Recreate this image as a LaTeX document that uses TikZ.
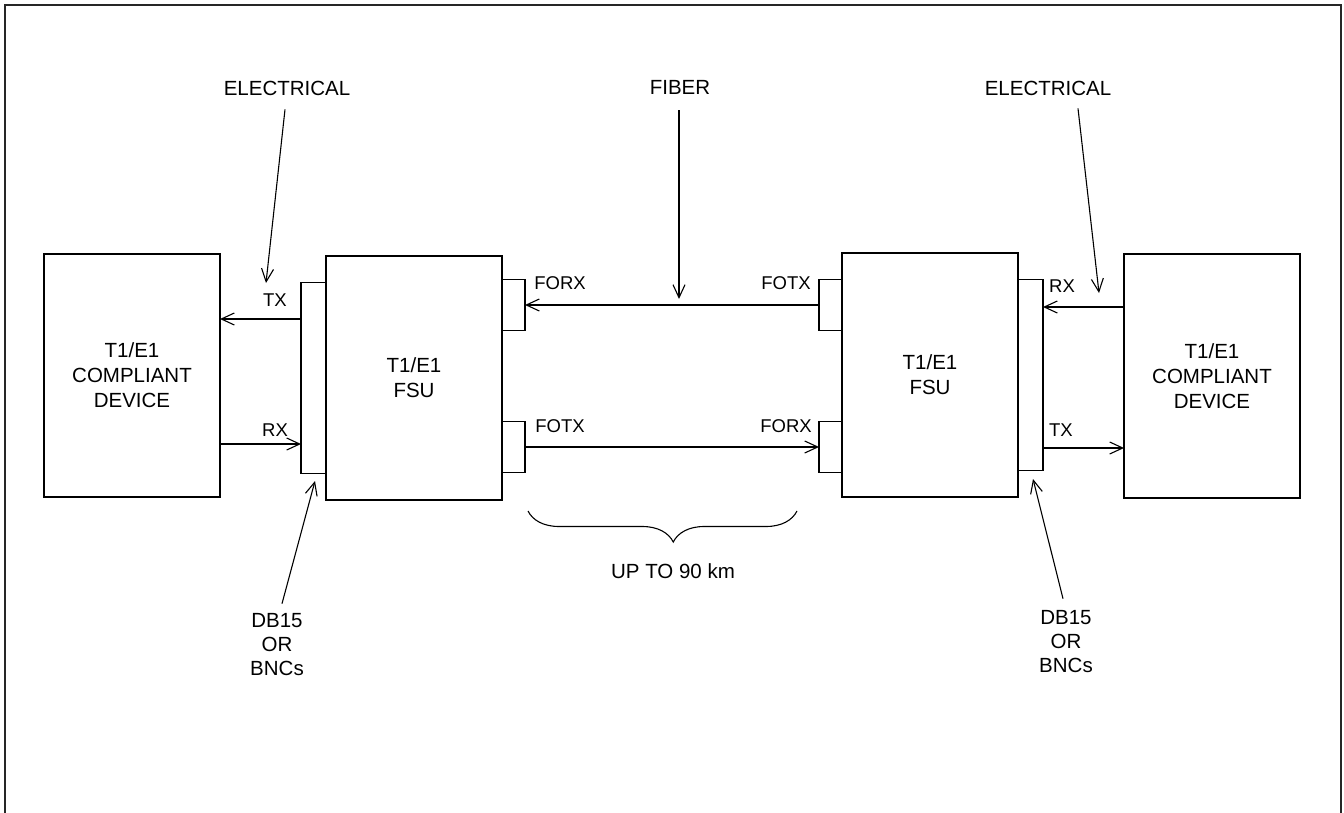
\documentclass[tikz,border=0pt]{standalone}
\usepackage{fontspec}
\setmainfont{Liberation Sans}
\usetikzlibrary{arrows.meta, positioning, calc, decorations.pathreplacing}

\begin{document}
\begin{tikzpicture}[
    x=1pt, y=-1pt,
    box/.style={draw, line width=1.1pt, minimum width=176pt, inner sep=0pt, outer sep=0pt, font=\fontsize{20.5}{25}\selectfont, align=center},
    plug/.style={draw, line width=1.1pt, minimum width=23pt, minimum height=51pt, inner sep=0pt, outer sep=0pt},
    conn/.style={draw, line width=1.1pt, minimum width=25pt, minimum height=191pt, inner sep=0pt, outer sep=0pt},
    arrow/.style={-{Straight Barb[length=13pt,width=12pt]}, line width=1.1pt},
    lbl/.style={font=\fontsize{20.5}{24}\selectfont, align=center, inner sep=0pt},
    port/.style={font=\fontsize{18.5}{22}\selectfont, inner sep=0pt}
]
    \useasboundingbox (0,0) rectangle (1344,813);
    \draw[line width=2pt, black!85] (5,813) -- (5,5) -- (1341,5) -- (1341,813);

    % left side
    \node[box, minimum height=243pt] (devL) at (132,375.5) {T1/E1\\COMPLIANT\\DEVICE};
    \node[box, minimum height=244pt] (fsuL) at (414,378) {T1/E1\\FSU};
    \node[conn, left=0pt of fsuL] (dbL) {};
    \node[plug, anchor=west] (forxL) at (fsuL.east |- 0,305) {};
    \node[plug, anchor=west] (fotxL) at (fsuL.east |- 0,447) {};

    % right side
    \node[box, minimum height=244pt] (fsuR) at (930,375) {T1/E1\\FSU};
    \node[conn, right=0pt of fsuR] (dbR) {};
    \node[plug, anchor=east] (fotxR) at (fsuR.west |- 0,305) {};
    \node[plug, anchor=east] (forxR) at (fsuR.west |- 0,447) {};
    \node[box, minimum height=244pt] (devR) at (1212,376) {T1/E1\\COMPLIANT\\DEVICE};

    % electrical links
    \draw[arrow] (dbL.west |- 0,319) -- (devL.east |- 0,319);
    \draw[arrow] (devL.east |- 0,444) -- (dbL.west |- 0,444);
    \draw[arrow] (devR.west |- 0,307) -- (dbR.east |- 0,307);
    \draw[arrow] (dbR.east |- 0,448) -- (devR.west |- 0,448);
    \node[port] (txL) at (275,300) {TX};
    \node[port] (rxL) at (275,430) {RX};
    \node[port] (rxR) at (1062,286) {RX};
    \node[port] (txR) at (1061,430) {TX};

    % fiber links
    \draw[arrow] (fotxR.west) -- (forxL.east);
    \draw[arrow] (fotxL.east) -- (forxR.west);
    \node[port] (forxLbl) at (560,283) {FORX};
    \node[port] (fotxLbl) at (560,426) {FOTX};
    \node[port] (fotxRbl) at (786,283) {FOTX};
    \node[port] (forxRbl) at (786,426) {FORX};

    % callouts
    \node[lbl] (elecL) at (287,88) {ELECTRICAL};
    \node[lbl] (fiber) at (680,87) {FIBER};
    \node[lbl] (elecR) at (1048,88) {ELECTRICAL};
    \node[lbl] (dbLbl) at (277,645) {DB15\\OR\\BNCs};
    \node[lbl] (dbRbl) at (1066,642) {DB15\\OR\\BNCs};
    \coordinate (elecLtip) at (266,283);
    \coordinate (fiberTip) at (679,299);
    \coordinate (elecRtip) at (1099,293);
    \coordinate (dbLtip) at (315,481);
    \coordinate (dbRtip) at (1033,479);
    \draw[arrow] ([xshift=-2pt, yshift=-14pt]elecL.south) -- (elecLtip);
    \draw[arrow] ([xshift=-1pt, yshift=-16pt]fiber.south) -- (fiberTip);
    \draw[arrow] ([xshift=30pt, yshift=-13pt]elecR.south) -- (elecRtip);
    \draw[arrow] ([xshift=5pt, yshift=10pt]dbLbl.north) -- (dbLtip);
    \draw[arrow] ([xshift=-3pt, yshift=12pt]dbRbl.north) -- (dbRtip);

    % span
    \coordinate (spanA) at (528,511);
    \coordinate (spanB) at (797,511);
    \draw[line width=1.1pt, decorate, decoration={brace, mirror, amplitude=31pt, aspect=0.54}] (spanA) -- (spanB);
    \node[lbl] (span) at (673,571) {UP TO 90 km};
\end{tikzpicture}
\end{document}
